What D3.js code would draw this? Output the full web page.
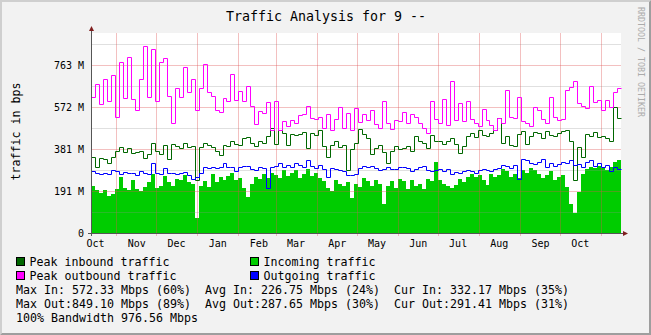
<!DOCTYPE html>
<html>
<head>
<meta charset="utf-8">
<script src="https://cdn.jsdelivr.net/npm/d3@7"></script>
<style>
  html, body { margin: 0; padding: 0; background: #f2f2f2; }
  svg { display: block; }
  text { font-family: "DejaVu Sans Mono", monospace; fill: #000; white-space: pre; }
</style>
</head>
<body>
<svg id="chart" width="651" height="335"></svg>
<script>
// ---- text ----
const chartTitle = "Traffic Analysis for 9 --";
const yAxisTitle = "traffic in bps";
const watermark = "RRDTOOL / TOBI OETIKER";

// ---- time range: one sample every 3 days ----
const startDate = new Date(Date.UTC(2010, 9, 13));
const endDate = new Date(Date.UTC(2011, 10, 16));
const stepDays = 3;

// ---- series values (M, base 1024 units) ----
const peakIn = [345,300,340,335,318,345,372,392,368,385,365,368,372,340,360,408,375,358,400,335,
  405,395,385,408,390,395,240,390,410,400,390,375,355,400,395,420,405,400,430,435,
  410,395,420,410,440,480,405,470,455,400,450,445,450,460,385,455,445,470,395,345,
  400,420,390,400,285,380,410,475,450,430,360,385,400,370,320,375,395,380,385,395,
  375,440,420,410,385,445,420,420,405,420,430,405,365,395,440,455,435,470,445,440,
  455,470,525,410,440,400,395,450,465,405,440,460,455,430,465,445,440,455,462,470,
  420,240,390,345,450,440,460,435,440,430,420,572.33,522];

const incoming = [212,195,180,195,170,178,200,255,205,195,240,200,192,210,230,268,205,215,258,230,
  215,245,240,262,230,225,70,215,235,210,270,230,255,240,260,275,240,250,205,165,
  225,255,245,270,250,275,265,250,285,260,275,285,250,270,290,260,275,250,235,205,
  190,240,225,215,230,160,225,210,250,235,215,240,225,130,215,235,205,245,235,200,
  240,215,225,200,245,235,325,240,225,215,205,220,245,230,255,270,255,265,240,220,
  270,255,265,290,280,255,270,250,285,275,295,285,270,250,265,280,240,255,265,210,
  130,90,185,270,290,300,295,305,295,285,300,325,332.17];

const peakOut = [620,680,585,700,600,720,530,780,615,800,610,560,700,849.1,620,835,600,780,795,625,
  500,660,620,755,640,700,560,660,770,640,625,560,550,615,600,725,605,645,600,670,
  580,495,555,545,595,470,600,470,510,485,515,500,535,540,580,525,520,530,480,540,
  470,520,575,480,545,470,570,505,540,515,560,495,480,600,500,475,515,510,550,500,
  540,530,500,480,455,600,520,500,610,490,690,515,590,510,600,520,500,485,565,515,
  490,470,525,500,650,530,525,620,510,500,485,575,560,520,500,620,530,515,520,650,
  665,690,590,580,570,670,595,605,560,605,575,640,658];

const outgoing = [280,272,270,275,268,285,282,270,278,272,275,265,280,272,268,318,275,270,295,272,
  275,268,272,278,265,245,255,275,300,298,302,295,300,318,300,302,280,300,305,305,
  290,285,300,295,206,300,305,318,300,310,300,320,310,300,330,305,298,310,290,255,
  295,290,285,280,265,262,270,298,305,300,305,295,285,290,300,292,290,300,302,298,
  280,290,300,305,288,282,285,290,282,292,270,278,275,282,285,280,275,285,290,285,
  282,290,295,310,305,298,310,245,338,330,318,312,325,335,300,320,305,315,325,318,
  330,310,312,300,325,330,305,320,300,310,282,300,291.41];

// ---- axis ticks ----
const yTop = 910;
const yMajorTicks = [0, 190.73, 381.47, 572.2, 762.94];
const yMajorLabels = ["0", "191 M", "381 M", "572 M", "763 M"];
const yMinorTicks = [95.37, 286.1, 476.84, 667.57, 858.31];
const monthLabels = ["Oct","Nov","Dec","Jan","Feb","Mar","Apr","May","Jun","Jul","Aug","Sep","Oct"];

// ---- legend ----
const legendNames = [["Peak inbound traffic", "Incoming traffic"], ["Peak outbound traffic", "Outgoing traffic"]];
const legendColors = [["#006600", "#00cc00"], ["#ff00ff", "#0000ff"]];
const statsLines = [
  "Max In: 572.33 Mbps (60%)  Avg In: 226.75 Mbps (24%)  Cur In: 332.17 Mbps (35%)",
  "Max Out:849.10 Mbps (89%)  Avg Out:287.65 Mbps (30%)  Cur Out:291.41 Mbps (31%)",
  "100% Bandwidth 976.56 Mbps"
];

// ---- drawing ----
const W = 651, H = 335;
const plot = { left: 91, right: 621, top: 33, bottom: 233 };
const svg = d3.select("#chart");

// background and 3d frame
svg.append("rect").attr("width", W).attr("height", H).attr("fill", "#f2f2f2");
svg.append("path").attr("fill", "#cfcfcf")
  .attr("d", `M0,0H${W}L${W-2},2H2V${H-2}L0,${H}Z`);
svg.append("path").attr("fill", "#9e9e9e")
  .attr("d", `M${W},${H}H0L2,${H-2}H${W-2}V2L${W},0Z`);

// canvas
svg.append("rect")
  .attr("x", plot.left).attr("y", plot.top)
  .attr("width", plot.right - plot.left).attr("height", plot.bottom - plot.top)
  .attr("fill", "#ffffff");

const x = d3.scaleUtc().domain([startDate, endDate]).range([plot.left, plot.right]);
const y = d3.scaleLinear().domain([0, yTop]).range([plot.bottom, plot.top]);

const dates = peakIn.map((_, i) => d3.utcDay.offset(startDate, i * stepDays));
const toPoints = vals => vals.map((v, i) => ({ date: dates[i], v }))
  .concat([{ date: endDate, v: vals[vals.length - 1] }]);

const px = d => Math.round(x(d.date));
const line = d3.line()
  .x(d => px(d) + 0.5)
  .y(d => Math.round(y(d.v)) + 0.5)
  .curve(d3.curveStepAfter);
const area = d3.area()
  .x(d => px(d))
  .y0(y(0))
  .y1(d => Math.round(y(d.v)))
  .curve(d3.curveStepAfter);

// incoming traffic area
svg.append("path").datum(toPoints(incoming))
  .attr("fill", legendColors[0][1]).attr("d", area);

// grid
const grid = svg.append("g").attr("shape-rendering", "crispEdges");
grid.selectAll(".minor").data(yMinorTicks).join("line")
  .attr("x1", plot.left).attr("x2", plot.right)
  .attr("y1", d => Math.round(y(d)) + 0.5).attr("y2", d => Math.round(y(d)) + 0.5)
  .attr("stroke", "rgba(143,143,143,0.28)");
grid.selectAll(".major").data(yMajorTicks.slice(1)).join("line")
  .attr("x1", plot.left).attr("x2", plot.right)
  .attr("y1", d => Math.round(y(d)) + 0.5).attr("y2", d => Math.round(y(d)) + 0.5)
  .attr("stroke", "rgba(222,79,79,0.36)");
const monthStarts = d3.utcMonth.range(d3.utcDay.offset(startDate, 1), endDate);
grid.selectAll(".month").data(monthStarts).join("line")
  .attr("x1", d => Math.round(x(d)) + 0.5).attr("x2", d => Math.round(x(d)) + 0.5)
  .attr("y1", plot.top).attr("y2", plot.bottom + 3)
  .attr("stroke", "rgba(222,79,79,0.36)");

// lines
svg.append("path").datum(toPoints(peakIn))
  .attr("fill", "none").attr("stroke", legendColors[0][0]).attr("stroke-width", 1).attr("d", line);
svg.append("path").datum(toPoints(peakOut))
  .attr("fill", "none").attr("stroke", legendColors[1][0]).attr("stroke-width", 1).attr("d", line);
svg.append("path").datum(toPoints(outgoing))
  .attr("fill", "none").attr("stroke", legendColors[1][1]).attr("stroke-width", 1).attr("d", line);

// axis lines and arrows
const axisG = svg.append("g").attr("shape-rendering", "crispEdges");
axisG.append("line").attr("x1", plot.left - 3).attr("x2", plot.right + 2)
  .attr("y1", plot.bottom + 0.5).attr("y2", plot.bottom + 0.5).attr("stroke", "#555");
axisG.append("line").attr("x1", plot.left + 0.5).attr("x2", plot.left + 0.5)
  .attr("y1", plot.top - 2).attr("y2", plot.bottom + 3).attr("stroke", "#555");
svg.append("path").attr("fill", "#801f1f")
  .attr("d", `M${plot.left + 0.5},${plot.top - 7}L${plot.left + 3},${plot.top - 2}H${plot.left - 2}Z`);
svg.append("path").attr("fill", "#801f1f")
  .attr("d", `M${plot.right + 7},${plot.bottom + 0.5}L${plot.right + 2},${plot.bottom + 3}V${plot.bottom - 2}Z`);

// axis labels
const labelDates = d3.utcMonth.range(d3.utcMonth.floor(startDate), endDate)
  .map(m => d3.utcDay.offset(m, 15))
  .filter(d => d < endDate);
const xAxis = d3.axisBottom(x).tickValues(labelDates)
  .tickFormat((d, i) => monthLabels[i]).tickSize(0);
const gx = svg.append("g").attr("transform", `translate(0,${plot.bottom})`).call(xAxis);
gx.select(".domain").remove();
gx.selectAll("text").attr("y", 14).attr("dy", null)
  .attr("font-family", "DejaVu Sans Mono").attr("font-size", 10).attr("fill", "#000");

const yAxis = d3.axisLeft(y).tickValues(yMajorTicks)
  .tickFormat((d, i) => yMajorLabels[i]).tickSize(0).tickPadding(7);
const gy = svg.append("g").attr("transform", `translate(${plot.left},0)`).call(yAxis);
gy.select(".domain").remove();
gy.selectAll("text").attr("font-family", "DejaVu Sans Mono").attr("font-size", 10).attr("fill", "#000");

// title, axis title, watermark
svg.append("text").attr("x", 326).attr("y", 21).attr("text-anchor", "middle")
  .attr("font-size", "13.3px").text(chartTitle);
svg.append("text").attr("transform", "translate(19.5,131.5) rotate(-90)")
  .attr("text-anchor", "middle").attr("font-size", "11.63px").text(yAxisTitle);
svg.append("text").attr("transform", "translate(637.5,7) rotate(90)")
  .attr("font-size", "8.3px").style("fill", "#ababab").text(watermark);

// legend
const legendRowY = [266, 280];
const legendColX = [16, 250];
legendNames.forEach((row, r) => {
  row.forEach((name, c) => {
    svg.append("rect")
      .attr("x", legendColX[c] + 0.5).attr("y", legendRowY[r] - 8.5)
      .attr("width", 8).attr("height", 8)
      .attr("fill", legendColors[r][c]).attr("stroke", "#000").attr("stroke-width", 1);
    svg.append("text").attr("x", legendColX[c] + 13.5).attr("y", legendRowY[r])
      .attr("font-size", "11.63px").text(name);
  });
});
statsLines.forEach((s, i) => {
  svg.append("text").attr("x", 16).attr("y", 294 + i * 14)
    .attr("xml:space", "preserve").attr("font-size", "11.63px").text(s);
});
</script>
</body>
</html>
